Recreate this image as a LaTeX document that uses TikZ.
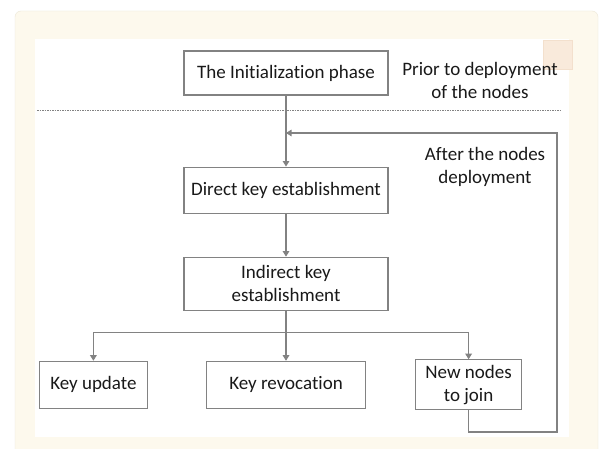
\documentclass[tikz,border=0pt]{standalone}
\usepackage{fontspec}
\setmainfont{Carlito}[Ligatures=NoCommon]
\usetikzlibrary{arrows.meta,positioning}
\definecolor{cream}{RGB}{253,249,237}
\definecolor{creamline}{RGB}{236,231,216}
\definecolor{peach}{RGB}{249,234,219}
\definecolor{peachline}{RGB}{243,224,205}
\definecolor{boxline}{RGB}{130,130,130}
\definecolor{txt}{RGB}{25,25,25}

\begin{document}
\begin{tikzpicture}[x=1pt, y=-1pt,
  phase/.style={draw=boxline, line width=1.1pt, align=center, text=txt, font=\fontsize{19}{23}\selectfont, inner sep=4pt},
  note/.style={align=center, text=txt, font=\fontsize{19}{23}\selectfont},
  flow/.style={draw=boxline, line width=1.1pt, -{Triangle[length=5.5pt,width=6.5pt]}},
  node distance=50pt]
\useasboundingbox (0,0) rectangle (603,449);
% panel behind the chart
\fill[white] (0,0) rectangle (603,449);
\draw[creamline, fill=cream, rounded corners=6pt] (15,11) rectangle (598,470);
\fill[white] (35,39) rectangle (569,437);
\draw[peachline, fill=peach] (543,40) rectangle (572,69);

% before deployment
\node[phase, minimum width=204pt, minimum height=44pt] (init) at (286,73) {The Initialization phase};
\node[note] (prior) at (480,80.5) {Prior to deployment\\of the nodes};
\coordinate (sepL) at (37,110);
\coordinate (sepR) at (562,110);
\draw[boxline, line width=0.9pt, dash pattern=on 1.5pt off 1pt] (sepL) -- (sepR);

% after deployment
\node[phase, minimum width=204pt, minimum height=46pt, below=71pt of init] (direct) {Direct key establishment};
\node[note] (after) at (485,166.5) {After the nodes\\deployment};
\node[phase, minimum width=204pt, minimum height=53pt, below=43pt of direct] (indirect) {Indirect key\\establishment};
\node[phase, minimum width=159pt, minimum height=47pt, below=50pt of indirect] (revoke) {Key revocation};
\node[phase, minimum width=108pt, minimum height=47pt, left=58pt of revoke] (update) {Key update};
\node[phase, minimum width=106pt, minimum height=50pt, right=49pt of revoke] (join) {New nodes\\to join};

\draw[flow] (init) -- (direct);
\draw[flow] (direct) -- (indirect);
\coordinate (fork) at ([yshift=-22pt]indirect.south);
\draw[flow] (indirect) -- (revoke);
\draw[flow] (fork) -| (update);
\draw[flow] (fork) -| (join);

% new nodes go back to direct key establishment
\coordinate (entry) at (286,133);
\coordinate (corner) at (557,432);
\draw[flow] (join.south) -- (join.south |- corner) -- (corner) -- (corner |- entry) -- (entry);
\end{tikzpicture}
\end{document}
